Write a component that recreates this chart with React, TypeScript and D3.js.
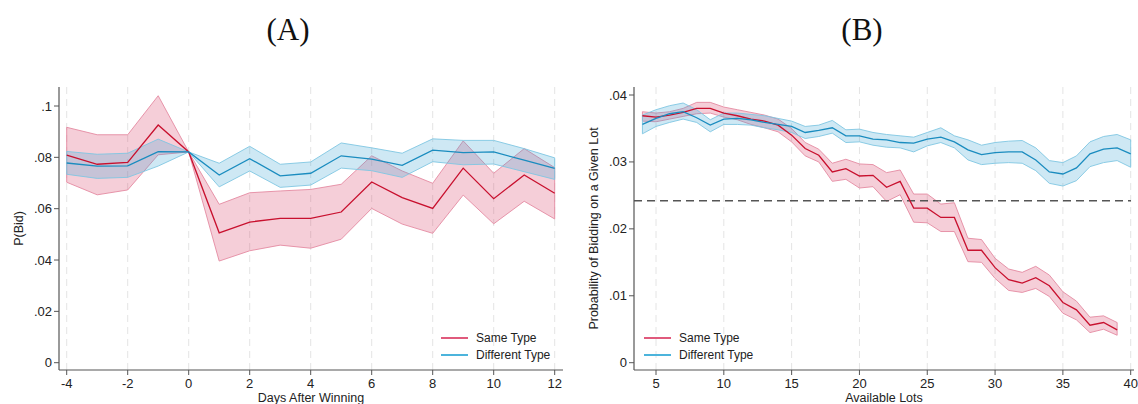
import React from "react";
import * as d3 from "d3";

// ---------- Panel A data ----------
const daysA = [-4, -3, -2, -1, 0, 1, 2, 3, 4, 5, 6, 7, 8, 9, 10, 11, 12];
const sameA = [0.0809, 0.0773, 0.078, 0.0926, 0.0821, 0.0506, 0.0548, 0.0562, 0.0562, 0.0587, 0.0704, 0.0643, 0.0601, 0.0758, 0.0639, 0.0731, 0.066];
const sameALo = [0.0703, 0.0654, 0.0673, 0.081, 0.0821, 0.0396, 0.0436, 0.0458, 0.0446, 0.0481, 0.0601, 0.054, 0.0504, 0.0653, 0.0541, 0.0629, 0.056];
const sameAHi = [0.0917, 0.0888, 0.0888, 0.104, 0.0821, 0.0617, 0.0662, 0.0669, 0.0675, 0.0695, 0.0806, 0.0747, 0.0699, 0.0864, 0.0738, 0.0834, 0.076];
const diffA = [0.0778, 0.0766, 0.0767, 0.0822, 0.0821, 0.0731, 0.0795, 0.0728, 0.0738, 0.0806, 0.0793, 0.0769, 0.0828, 0.0818, 0.0821, 0.0789, 0.0757];
const diffALo = [0.0734, 0.0718, 0.0722, 0.0766, 0.0821, 0.0685, 0.0747, 0.0683, 0.0692, 0.0758, 0.0748, 0.0722, 0.0783, 0.0771, 0.0774, 0.0744, 0.0714];
const diffAHi = [0.0823, 0.0812, 0.0816, 0.0871, 0.0821, 0.0777, 0.0843, 0.0773, 0.0782, 0.0856, 0.0837, 0.0816, 0.0872, 0.0866, 0.0866, 0.0834, 0.0798];
const xTicksA = [-4, -2, 0, 2, 4, 6, 8, 10, 12];
const yTicksA = [0, 0.02, 0.04, 0.06, 0.08, 0.1];
const yTickLabelsA = ["0", ".02", ".04", ".06", ".08", ".1"];

// ---------- Panel B data ----------
const lotsSame = d3.range(4, 40);
const lotsDiff = d3.range(4, 41);
const sameB = [0.0369, 0.0367, 0.037, 0.0374, 0.038, 0.038, 0.0373, 0.0369, 0.0364, 0.0361, 0.0355, 0.034, 0.032, 0.031, 0.0285, 0.029, 0.0279, 0.028, 0.0262, 0.0271, 0.0231, 0.0231, 0.0217, 0.0217, 0.0168, 0.0168, 0.0142, 0.0124, 0.0119, 0.0127, 0.0115, 0.009, 0.0079, 0.0056, 0.006, 0.0049];
const sameBHi = [0.0375, 0.0373, 0.0375, 0.038, 0.0389, 0.0389, 0.0382, 0.0378, 0.0374, 0.037, 0.0364, 0.035, 0.0329, 0.0319, 0.0298, 0.0304, 0.0297, 0.0296, 0.0284, 0.0288, 0.0252, 0.0252, 0.0237, 0.0239, 0.0186, 0.0184, 0.0156, 0.014, 0.0135, 0.0144, 0.0131, 0.0106, 0.0092, 0.0068, 0.007, 0.006];
const sameBLo = [0.0361, 0.036, 0.0364, 0.0368, 0.0372, 0.0373, 0.0367, 0.0363, 0.0356, 0.0351, 0.0345, 0.033, 0.0309, 0.03, 0.0271, 0.0274, 0.0261, 0.0263, 0.0241, 0.0251, 0.021, 0.0209, 0.0196, 0.0196, 0.0151, 0.015, 0.0126, 0.0108, 0.0105, 0.0111, 0.0099, 0.0074, 0.0064, 0.0045, 0.005, 0.0041];
const diffB = [0.0356, 0.0365, 0.0372, 0.0375, 0.0366, 0.0355, 0.0364, 0.0365, 0.0363, 0.0359, 0.0356, 0.0353, 0.0344, 0.0347, 0.0351, 0.0339, 0.0339, 0.0334, 0.0333, 0.0329, 0.0328, 0.0334, 0.0337, 0.033, 0.0318, 0.0311, 0.0314, 0.0315, 0.0315, 0.0303, 0.0285, 0.0282, 0.0291, 0.0312, 0.0319, 0.0321, 0.0312];
const diffBHi = [0.037, 0.0378, 0.0384, 0.0388, 0.0378, 0.0363, 0.0373, 0.0373, 0.0371, 0.0369, 0.0365, 0.0361, 0.0353, 0.0355, 0.0362, 0.0348, 0.0349, 0.0344, 0.0341, 0.0339, 0.0337, 0.0344, 0.0351, 0.0339, 0.0333, 0.0325, 0.0329, 0.0331, 0.0332, 0.0321, 0.0302, 0.0299, 0.0309, 0.033, 0.0338, 0.0341, 0.0333];
const diffBLo = [0.0342, 0.0353, 0.0359, 0.0364, 0.0359, 0.0345, 0.0356, 0.0356, 0.0355, 0.0351, 0.0348, 0.0344, 0.0335, 0.0338, 0.0343, 0.0329, 0.033, 0.0325, 0.0322, 0.0321, 0.0315, 0.0324, 0.0329, 0.0321, 0.0303, 0.0296, 0.0298, 0.0299, 0.0298, 0.0287, 0.0268, 0.0264, 0.0272, 0.0293, 0.0299, 0.0302, 0.0292];
const refB = 0.0242;
const xTicksB = [5, 10, 15, 20, 25, 30, 35, 40];
const yTicksB = [0, 0.01, 0.02, 0.03, 0.04];
const yTickLabelsB = ["0", ".01", ".02", ".03", ".04"];

const seriesNames = ["Same Type", "Different Type"];

const RED = "#c8102e";
const RED_FILL = "#d83a62";
const RED_EDGE = "#e48aa2";
const RED_LEG = "#e05a7c";
const BLUE = "#1a8cbf";
const BLUE_FILL = "#3aa3d2";
const BLUE_EDGE = "#7fc6e2";
const BLUE_LEG = "#4cb4dc";
const AXIS = "#555";
const FONT = "'Liberation Sans', Arial, Helvetica, sans-serif";

type Band = { xs: number[]; mid: number[]; lo: number[]; hi: number[]; line: string; fill: string; edge: string };

function Panel(props: {
  x: d3.ScaleLinear<number, number>;
  y: d3.ScaleLinear<number, number>;
  left: number;
  right: number;
  top: number;
  bottom: number;
  xTicks: number[];
  yTicks: number[];
  yLabels: string[];
  bands: Band[];
  xLabel: string;
  yLabel: string;
  yLabelX: number;
  title: string;
  titleX: number;
  legendX: number;
  legendY: number;
  refLine?: number;
}) {
  const { x, y, left, right, top, bottom, bands } = props;
  const areaGen = (b: Band) =>
    d3
      .area<number>()
      .x((_, i) => x(b.xs[i]))
      .y0((_, i) => y(b.lo[i]))
      .y1((_, i) => y(b.hi[i]))(b.xs) || "";
  const lineGen = (xs: number[], vs: number[]) =>
    d3
      .line<number>()
      .x((_, i) => x(xs[i]))
      .y((_, i) => y(vs[i]))(xs) || "";
  const midY = (top + bottom) / 2;
  return (
    <g>
      <text x={props.titleX} y={40} textAnchor="middle" fontFamily="'Liberation Serif', 'Times New Roman', serif" fontSize={31} fill="#111">
        {props.title}
      </text>
      {props.xTicks.map((t) => (
        <line key={"g" + t} x1={x(t)} x2={x(t)} y1={top} y2={bottom} stroke="#e4e4e4" strokeWidth={1} strokeDasharray="7,5" />
      ))}
      {bands.map((b, i) => (
        <path key={"a" + i} d={areaGen(b)} fill={b.fill} fillOpacity={0.25} stroke={b.edge} strokeWidth={0.9} />
      ))}
      {props.refLine !== undefined && (
        <line x1={left} x2={right - 3} y1={y(props.refLine)} y2={y(props.refLine)} stroke="#555" strokeWidth={1.5} strokeDasharray="8,5" />
      )}
      {bands.map((b, i) => (
        <path key={"l" + i} d={lineGen(b.xs, b.mid)} fill="none" stroke={b.line} strokeWidth={1.3} />
      ))}
      {/* axes */}
      <line x1={left} x2={left} y1={top} y2={bottom} stroke={AXIS} strokeWidth={1.2} />
      <line x1={left} x2={right} y1={bottom} y2={bottom} stroke={AXIS} strokeWidth={1.2} />
      {props.yTicks.map((t, i) => (
        <g key={"yt" + t}>
          <line x1={left - 5} x2={left} y1={y(t)} y2={y(t)} stroke={AXIS} strokeWidth={1} />
          <text x={left - 7} y={y(t)} dy="0.35em" textAnchor="end" fontFamily={FONT} fontSize={13} fill="#222">
            {props.yLabels[i]}
          </text>
        </g>
      ))}
      {props.xTicks.map((t) => (
        <g key={"xt" + t}>
          <line x1={x(t)} x2={x(t)} y1={bottom} y2={bottom + 5} stroke={AXIS} strokeWidth={1} />
          <text x={x(t)} y={bottom + 18} textAnchor="middle" fontFamily={FONT} fontSize={13} fill="#222">
            {t}
          </text>
        </g>
      ))}
      <text x={(left + right) / 2} y={402} textAnchor="middle" fontFamily={FONT} fontSize={12.5} fill="#222">
        {props.xLabel}
      </text>
      <text transform={`translate(${props.yLabelX},${midY}) rotate(-90)`} textAnchor="middle" fontFamily={FONT} fontSize={12.5} fill="#222">
        {props.yLabel}
      </text>
      {/* legend */}
      {seriesNames.map((n, i) => (
        <g key={n}>
          <line
            x1={props.legendX}
            x2={props.legendX + 27}
            y1={props.legendY + i * 17}
            y2={props.legendY + i * 17}
            stroke={i === 0 ? RED_LEG : BLUE_LEG}
            strokeWidth={2}
          />
          <text x={props.legendX + 35} y={props.legendY + i * 17} dy="0.35em" fontFamily={FONT} fontSize={12} fill="#222">
            {n}
          </text>
        </g>
      ))}
    </g>
  );
}

export default function App() {
  const top = 87;
  const bottom = 370;
  const xA = d3.scaleLinear().domain([-4, 12]).range([66.7, 554.7]);
  const yA = d3.scaleLinear().domain([0, 0.1]).range([362.7, 106]);
  const xB = d3.scaleLinear().domain([5, 40]).range([656, 1130.7]);
  const yB = d3.scaleLinear().domain([0, 0.04]).range([362.7, 95]);

  const bandsA: Band[] = [
    { xs: daysA, mid: sameA, lo: sameALo, hi: sameAHi, line: RED, fill: RED_FILL, edge: RED_EDGE },
    { xs: daysA, mid: diffA, lo: diffALo, hi: diffAHi, line: BLUE, fill: BLUE_FILL, edge: BLUE_EDGE },
  ];
  const bandsB: Band[] = [
    { xs: lotsSame, mid: sameB, lo: sameBLo, hi: sameBHi, line: RED, fill: RED_FILL, edge: RED_EDGE },
    { xs: lotsDiff, mid: diffB, lo: diffBLo, hi: diffBHi, line: BLUE, fill: BLUE_FILL, edge: BLUE_EDGE },
  ];

  return (
    <svg width={1138} height={404} style={{ position: "absolute", left: 0, top: 0, background: "#fff" }}>
      <rect x={0} y={0} width={1138} height={404} fill="#fff" />
      <Panel
        x={xA}
        y={yA}
        left={59}
        right={563}
        top={top}
        bottom={bottom}
        xTicks={xTicksA}
        yTicks={yTicksA}
        yLabels={yTickLabelsA}
        bands={bandsA}
        xLabel="Days After Winning"
        yLabel="P(Bid)"
        yLabelX={23}
        title="(A)"
        titleX={288}
        legendX={441}
        legendY={338}
      />
      <Panel
        x={xB}
        y={yB}
        left={634}
        right={1134}
        top={top}
        bottom={bottom}
        xTicks={xTicksB}
        yTicks={yTicksB}
        yLabels={yTickLabelsB}
        bands={bandsB}
        xLabel="Available Lots"
        yLabel="Probability of Bidding on a Given Lot"
        yLabelX={598}
        title="(B)"
        titleX={862}
        legendX={644}
        legendY={338}
        refLine={refB}
      />
    </svg>
  );
}
